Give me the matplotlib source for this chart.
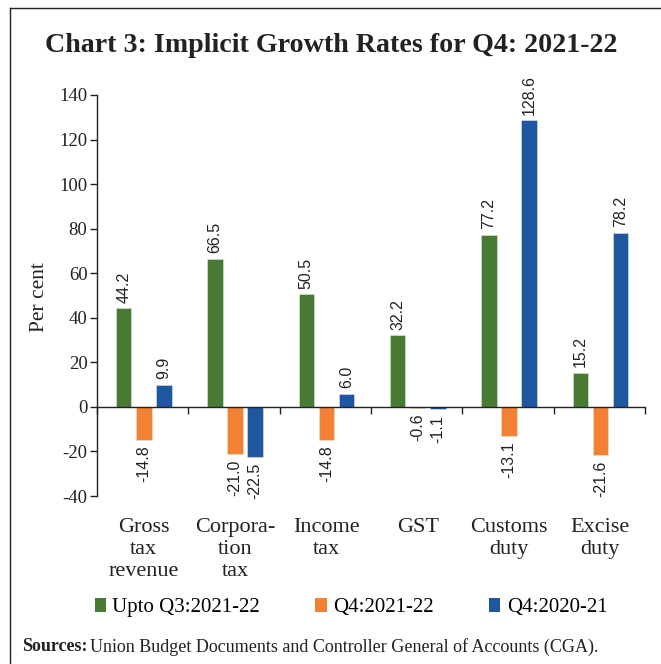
import numpy as np
import matplotlib.pyplot as plt
from matplotlib.lines import Line2D
from matplotlib.patches import Patch
import matplotlib.transforms as mtransforms

categories = ['Gross\ntax\nrevenue', 'Corpora-\ntion\ntax', 'Income\ntax', 'GST', 'Customs\nduty', 'Excise\nduty']
upto_q3 = [44.2, 66.5, 50.5, 32.2, 77.2, 15.2]
q4_2122 = [-14.8, -21.0, -14.8, -0.6, -13.1, -21.6]
q4_2021 = [9.9, -22.5, 6.0, -1.1, 128.6, 78.2]
series_names = ['Upto Q3:2021-22', 'Q4:2021-22', 'Q4:2020-21']
colors = ['#477A32', '#F28133', '#1F56A0']
yticks = [-40, -20, 0, 20, 40, 60, 80, 100, 120, 140]

serif = 'Liberation Serif'
sans = 'Liberation Sans'

fig = plt.figure(figsize=(6.61, 6.64), dpi=100)
ax = fig.add_axes([0.147, 0.253, 0.829, 0.604])

x = np.arange(len(categories)) + 0.51
width = 0.17
offsets = [-0.22, 0.0, 0.22]

for vals, off, col in zip([upto_q3, q4_2122, q4_2021], offsets, colors):
    bars = ax.bar(x + off, vals, width, color=col, edgecolor='#dfe8d8', linewidth=0.4, zorder=2)
    for b, v in zip(bars, vals):
        ax.annotate(f'{v:.1f}', (b.get_x() + b.get_width() / 2, v),
                    xytext=(0, 4 if v >= 0 else -4), textcoords='offset points',
                    rotation=90, ha='center', va='bottom' if v >= 0 else 'top',
                    fontsize=11.5, family=sans, color='#222222')

ax.set_xlim(0, len(categories))
ax.set_ylim(-40, 140)
ax.set_yticks(yticks)
ax.set_yticklabels([str(t) for t in yticks], family=serif, fontsize=13.5)
ax.tick_params(axis='y', direction='out', length=5, width=1, pad=2, colors='#222222')

# category boundaries as tick marks on the zero line
ax.spines['bottom'].set_position(('data', 0))
ax.set_xticks(np.arange(len(categories) + 1))
ax.set_xticklabels([])
ax.tick_params(axis='x', direction='out', length=5, width=1, colors='#222222')
for s in ['top', 'right']:
    ax.spines[s].set_visible(False)
for s in ['left', 'bottom']:
    ax.spines[s].set_linewidth(1)
    ax.spines[s].set_color('#222222')

trans = mtransforms.blended_transform_factory(ax.transData, ax.transAxes)
for xc, name in zip(x, categories):
    ax.text(xc, -0.055, name, transform=trans, ha='center', va='top',
            family=serif, fontsize=16, linespacing=1.21, color='#222222')

ax.set_ylabel('Per cent', family=serif, fontsize=15.5, color='#222222')
ax.yaxis.set_label_coords(-0.087, 0.496)

fig.text(0.501, 0.932, 'Chart 3: Implicit Growth Rates for Q4: 2021-22',
         ha='center', va='center', family=serif, fontweight='bold', fontsize=20.2, color='#222222')

handles = [Patch(facecolor=c) for c in colors]
fig.legend(handles, series_names, loc='center', bbox_to_anchor=(0.531, 0.085), ncol=3,
           frameon=False, prop={'family': serif, 'size': 15}, handlelength=0.55,
           handleheight=0.7, handletextpad=0.3, columnspacing=2.65)

t1 = fig.text(0.033, 0.026, 'Sources:', ha='left', va='center', family=serif,
              fontweight='bold', fontsize=13, color='#222222')
renderer = fig.canvas.get_renderer()
bb = t1.get_window_extent(renderer)
fig.text(bb.x1 / fig.bbox.width + 0.004, 0.026,
         'Union Budget Documents and Controller General of Accounts (CGA).',
         ha='left', va='center', family=serif, fontsize=13, color='#222222')

# outer frame: top and left edges
fig.add_artist(Line2D([0.015, 1.0], [0.988, 0.988], transform=fig.transFigure, color='#222222', lw=1))
fig.add_artist(Line2D([0.015, 0.015], [0.0, 0.988], transform=fig.transFigure, color='#222222', lw=1))

fig.savefig('out.png', dpi=100)
